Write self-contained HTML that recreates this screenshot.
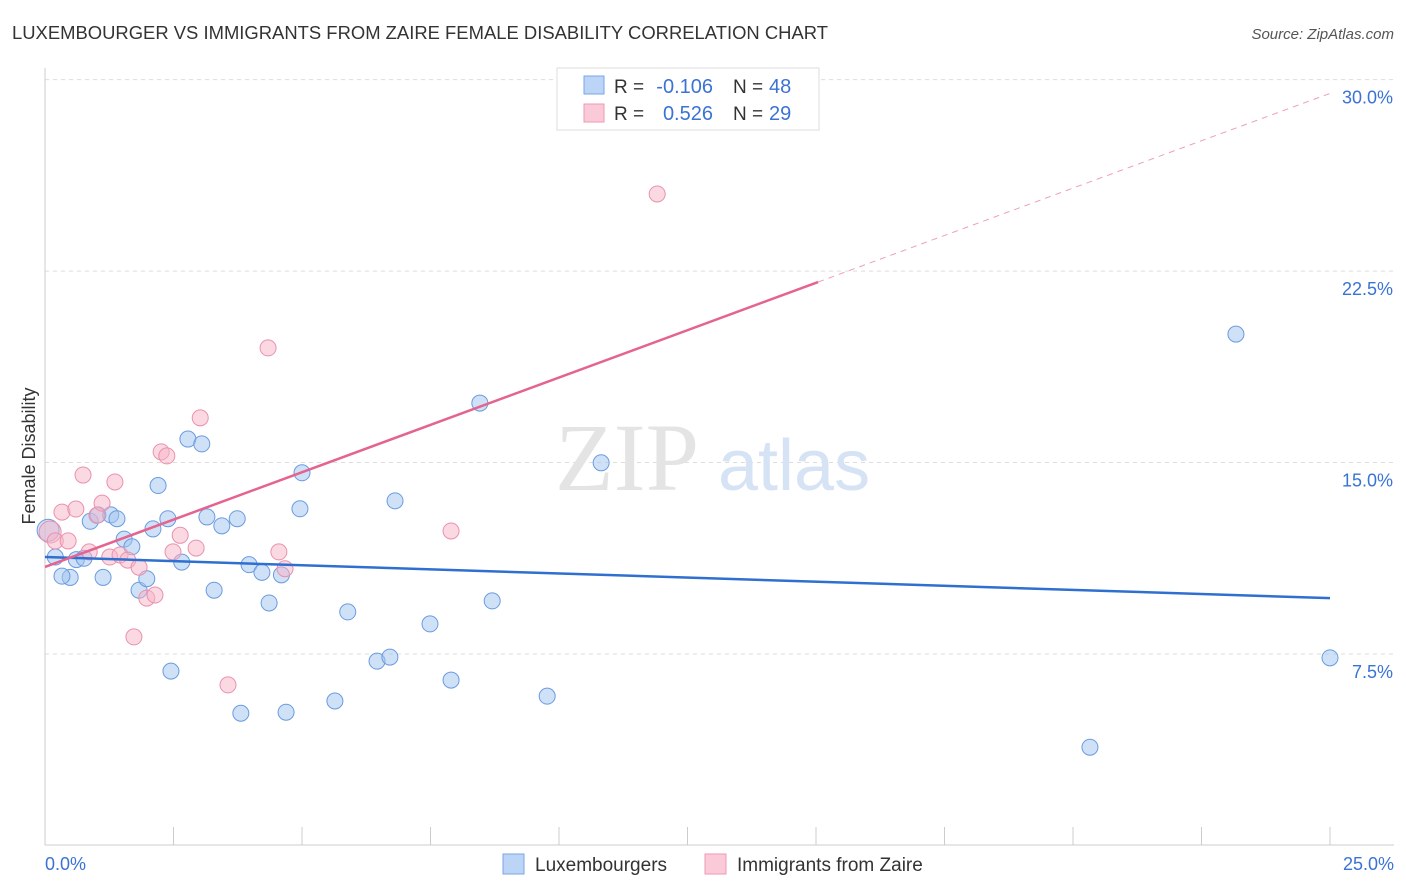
<!DOCTYPE html>
<html><head><meta charset="utf-8"><style>
body{margin:0;background:#fff;font-family:"Liberation Sans",sans-serif}
svg{display:block}
</style></head><body>
<svg id="chart" width="1406" height="892">
<text x="12" y="39" font-size="18" fill="#333" textLength="816" lengthAdjust="spacingAndGlyphs">LUXEMBOURGER VS IMMIGRANTS FROM ZAIRE FEMALE DISABILITY CORRELATION CHART</text>
<text x="1394" y="39" font-size="15" fill="#555" font-style="italic" text-anchor="end">Source: ZipAtlas.com</text>
<g id="grid"></g>
<text x="555" y="490" font-size="96" font-family="Liberation Serif" fill="#e4e4e4">ZIP</text>
<text x="718" y="490" font-size="72" fill="#d6e3f5">atlas</text>
<g id="marks"></g>
<text x="35" y="456" font-size="18" fill="#333" transform="rotate(-90 35 456)" text-anchor="middle">Female Disability</text>
<g>
<rect x="557" y="68" width="262" height="62" fill="#fff" stroke="#ddd"/>
<rect x="584" y="76" width="20" height="18" fill="#bcd4f5" stroke="#7aa6e6"/>
<rect x="584" y="104" width="20" height="18" fill="#fbcad8" stroke="#ef9ab4"/>
<text x="614" y="93" font-size="19" fill="#333">R =</text>
<text x="713" y="93" font-size="20" fill="#3a73d4" text-anchor="end">-0.106</text>
<text x="733" y="93" font-size="19" fill="#333">N =</text>
<text x="769" y="93" font-size="20" fill="#3a73d4">48</text>
<text x="614" y="120" font-size="19" fill="#333">R =</text>
<text x="713" y="120" font-size="20" fill="#3a73d4" text-anchor="end">0.526</text>
<text x="733" y="120" font-size="19" fill="#333">N =</text>
<text x="769" y="120" font-size="20" fill="#3a73d4">29</text>
</g>
<g>
<rect x="503" y="854" width="21" height="20" fill="#bcd4f5" stroke="#7aa6e6"/>
<text x="535" y="871" font-size="19" fill="#333">Luxembourgers</text>
<rect x="705" y="854" width="21" height="20" fill="#fbcad8" stroke="#ef9ab4"/>
<text x="737" y="871" font-size="19" fill="#333">Immigrants from Zaire</text>
</g>
</svg>
<script>
const yTicks=[7.5,15,22.5,30];
const yTickLabels=["7.5%","15.0%","22.5%","30.0%"];
const xTickLabels=["0.0%","25.0%"];
const blueX=[0.2,0.49,0.33,0.61,0.76,0.88,1.03,1.13,1.28,1.40,1.54,1.69,1.83,1.98,2.10,2.20,2.39,2.45,2.66,2.78,3.05,3.15,3.29,3.44,3.74,3.81,3.97,4.22,4.36,4.60,4.69,4.96,5.00,5.64,5.89,6.46,6.71,6.81,7.49,7.90,8.46,8.70,9.77,10.82,20.33,23.17,25.0,0.06];
const blueY=[11.3,10.5,10.55,11.2,11.25,12.7,12.95,10.5,12.95,12.8,12.0,11.7,10.0,10.45,12.4,14.1,12.8,6.83,11.1,15.92,15.73,12.87,10.0,12.52,12.8,5.18,11.0,10.7,9.5,10.6,5.22,13.19,14.6,5.66,9.15,7.22,7.38,13.5,8.68,6.48,17.33,9.58,5.85,14.99,3.85,20.03,7.35,12.35];
const pinkX=[0.1,0.2,0.33,0.45,0.6,0.74,0.86,1.01,1.11,1.26,1.36,1.46,1.61,1.73,1.83,1.98,2.14,2.26,2.37,2.49,2.63,2.94,3.02,3.56,4.34,4.55,4.67,7.90,11.91];
const pinkY=[12.28,11.93,13.06,11.93,13.18,14.51,11.5,12.93,13.41,11.3,14.24,11.38,11.18,8.17,10.9,9.69,9.81,15.42,15.26,11.5,12.15,11.65,16.75,6.29,19.49,11.5,10.84,12.32,25.52];
const blueTrend=[11.30,9.69];
const pinkTrend=[10.91,29.46];
const pinkSolidEnd=15.04;
const X=v=>45+v*51.4, Y=v=>845.5-v*25.53;
const ns="http://www.w3.org/2000/svg";
function mk(t,a,p){const e=document.createElementNS(ns,t);for(const k in a)e.setAttribute(k,a[k]);p.appendChild(e);return e;}
const grid=document.getElementById('grid'),marks=document.getElementById('marks');
yTicks.forEach((t,i)=>{
 const l=mk('line',{x1:45,x2:1394,y1:Y(t),y2:Y(t),stroke:'#ddd','stroke-dasharray':'4,4'},grid);
 
 
 const tx=mk('text',{x:1393,y:Y(t)+24,'font-size':18,fill:'#3a73d4','text-anchor':'end'},grid);
 tx.textContent=yTickLabels[i];
 
 
});
mk('line',{x1:45,x2:45,y1:68,y2:845,stroke:'#ccc'},grid);
mk('line',{x1:45,x2:1394,y1:845,y2:845,stroke:'#ccc'},grid);
for(let i=0;i<=10;i++){const t=mk('line',{x1:X(i*2.5),x2:X(i*2.5),y1:827,y2:845,stroke:'#ccc'},grid);
 
 }
[[0,'start',45],[1,'end',1394]].forEach(([i,a,x])=>{const t=mk('text',{x:x,y:870,'font-size':18,fill:'#3a73d4','text-anchor':a},grid);t.textContent=xTickLabels[i];
 
 });
blueX.forEach((x,i)=>{const c=mk('circle',{cx:X(x),cy:Y(blueY[i]),r:i==blueX.length-1?11:8,fill:'rgba(160,195,240,0.5)',stroke:'#6a9be0','stroke-width':1},marks);
 
 });
pinkX.forEach((x,i)=>{const c=mk('circle',{cx:X(x),cy:Y(pinkY[i]),r:i==0?11:8,fill:'rgba(248,180,200,0.5)',stroke:'#ea91ad','stroke-width':1},marks);
 
 });
const bl=mk('line',{x1:X(0),y1:Y(blueTrend[0]),x2:X(25),y2:Y(blueTrend[1]),stroke:'#2f6fd0','stroke-width':2.5},marks);


const slope=(pinkTrend[1]-pinkTrend[0])/25;
const pl=mk('line',{x1:X(0),y1:Y(pinkTrend[0]),x2:X(pinkSolidEnd),y2:Y(pinkTrend[0]+slope*pinkSolidEnd),stroke:'#e4648f','stroke-width':2.5},marks);


const pd=mk('line',{x1:X(pinkSolidEnd),y1:Y(pinkTrend[0]+slope*pinkSolidEnd),x2:X(25),y2:Y(pinkTrend[1]),stroke:'#eca0b8','stroke-width':1,'stroke-dasharray':'6,5'},marks);


</script>
</body></html>
